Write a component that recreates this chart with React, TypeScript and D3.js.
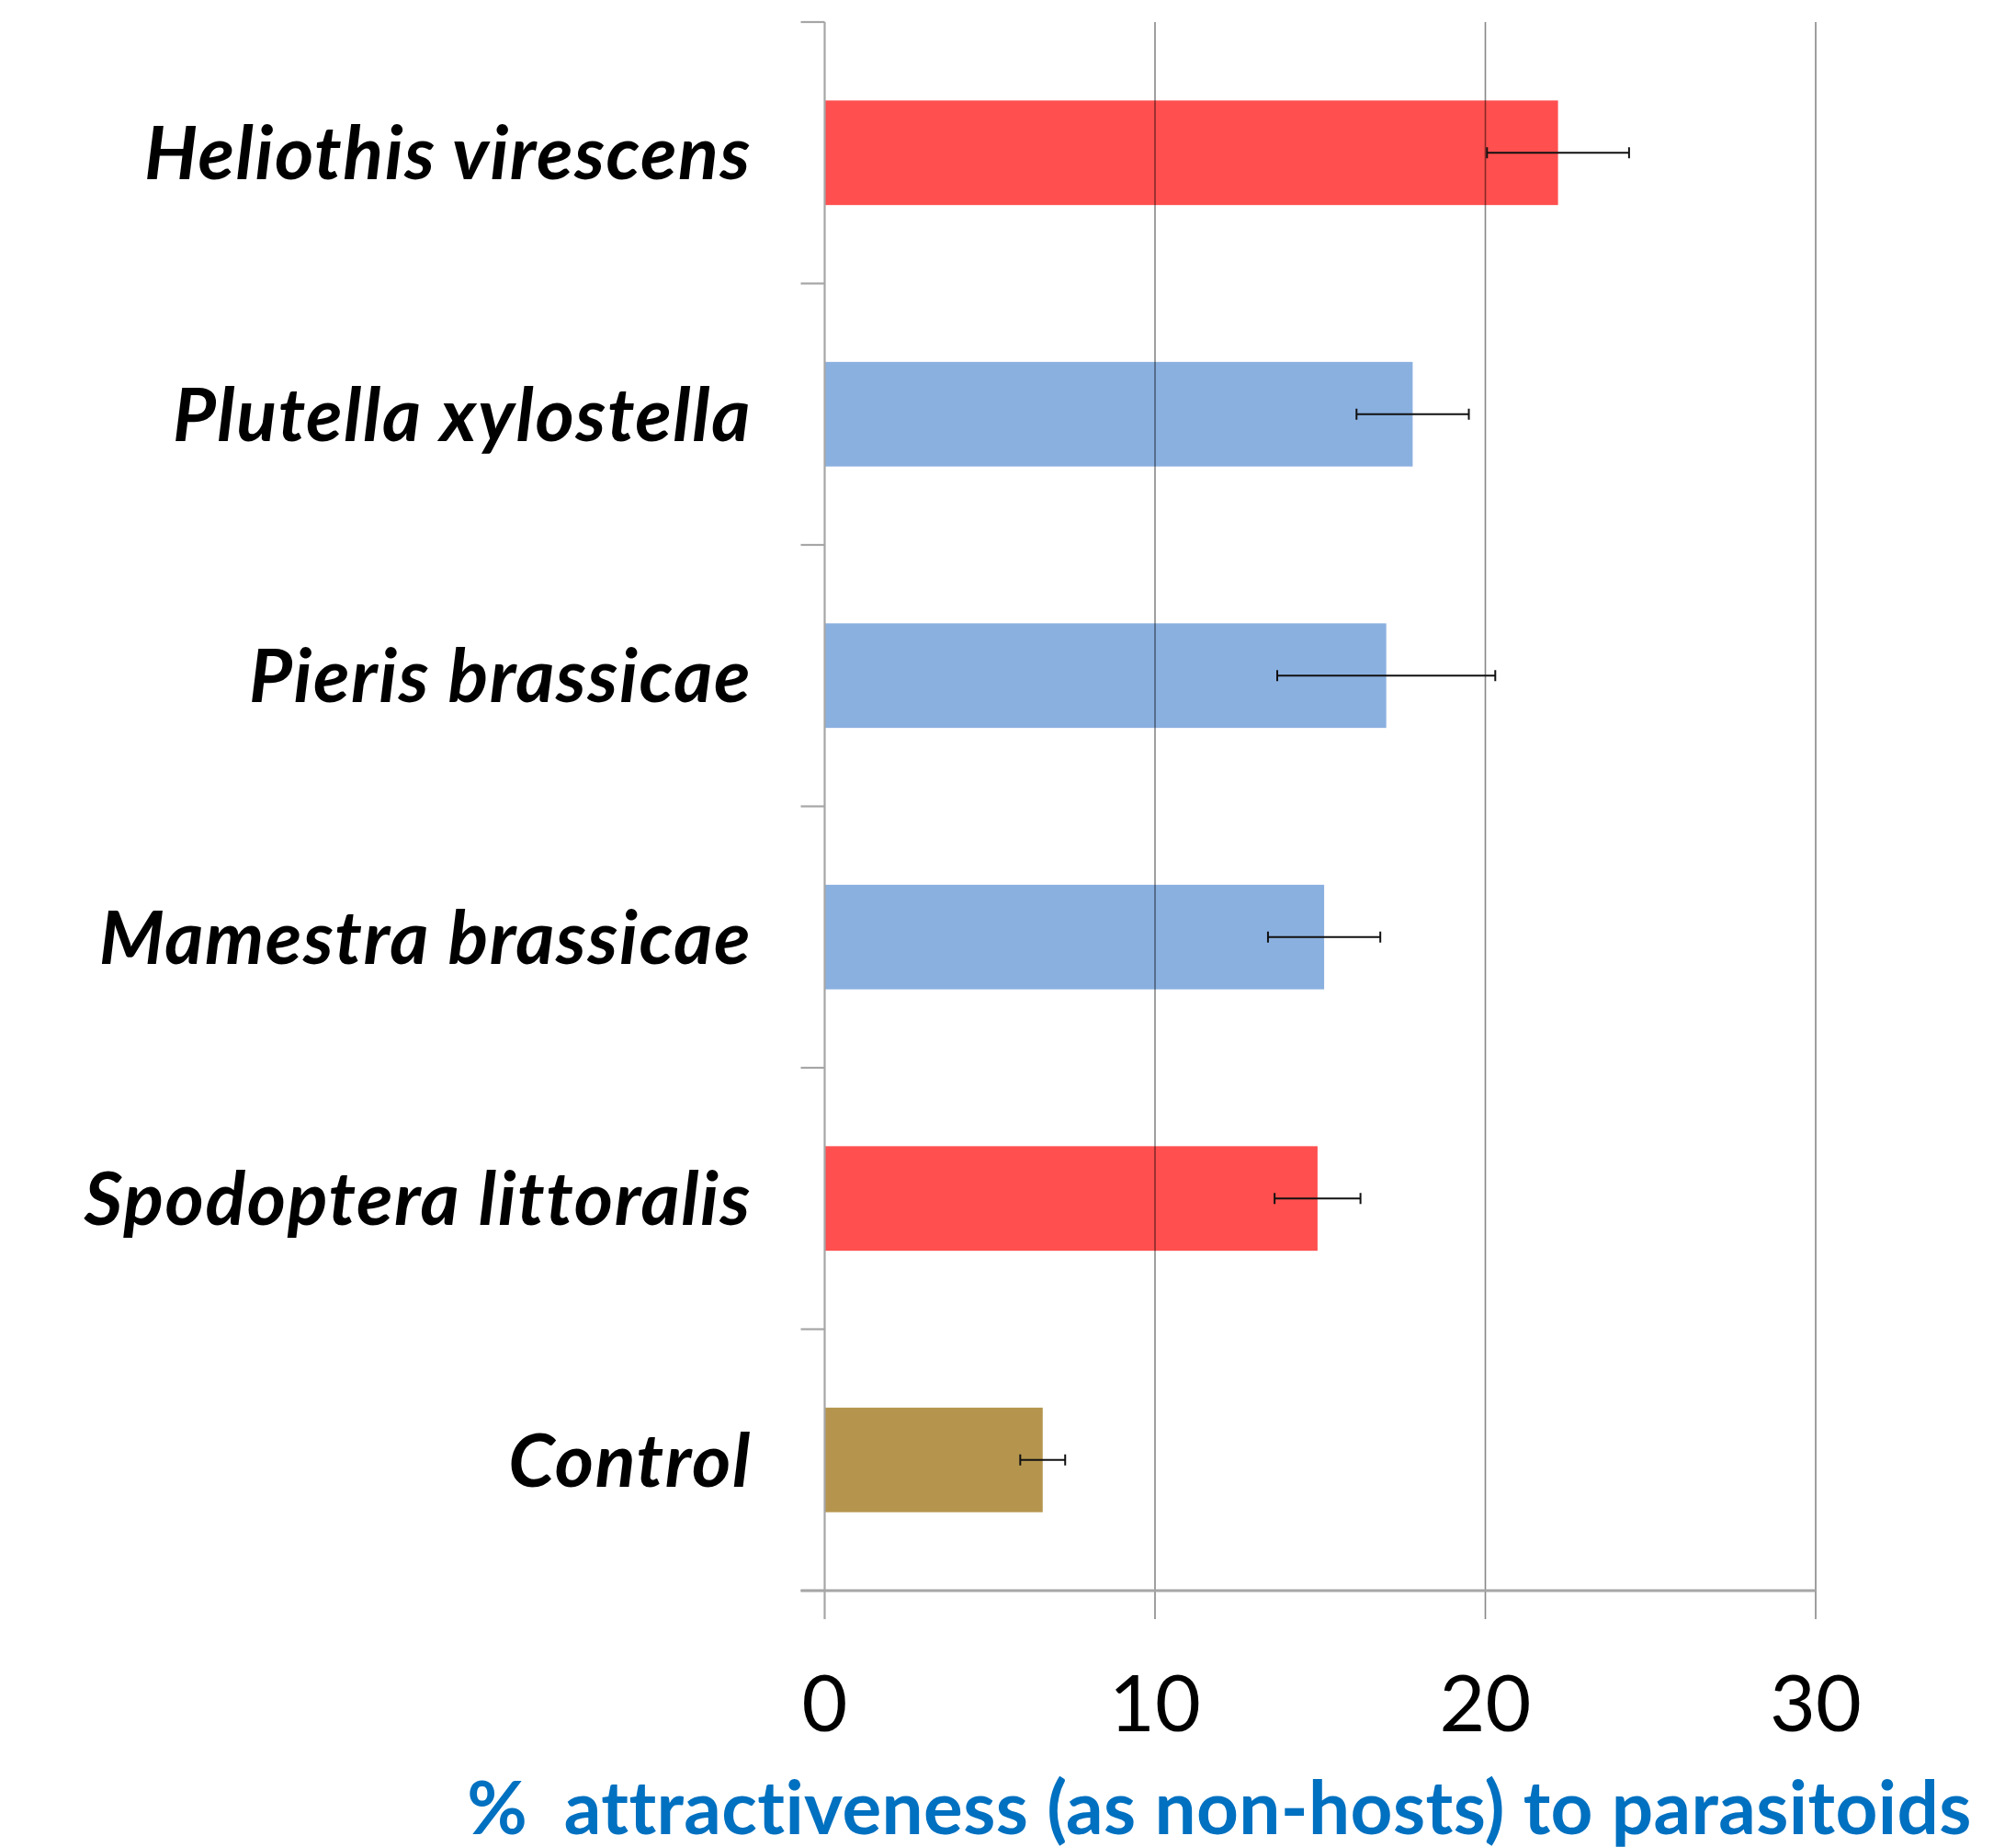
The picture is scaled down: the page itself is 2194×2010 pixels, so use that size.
import React from 'react';
import * as d3 from 'd3';

// species tested, top to bottom
const categories = [
  'Heliothis virescens',
  'Plutella xylostella',
  'Pieris brassicae',
  'Mamestra brassicae',
  'Spodoptera littoralis',
  'Control',
];
const values = [22.2, 17.8, 17.0, 15.12, 14.92, 6.6];
const errors = [2.15, 1.7, 3.3, 1.7, 1.3, 0.68];
const barColors = ['#FF4F4F', '#8AB0E0', '#8AB0E0', '#8AB0E0', '#FF4F4F', '#B5954D'];
const xTicks = [0, 10, 20, 30];
const axisTitle = '%  attractiveness (as non-hosts) to parasitoids';

const W = 2194;
const H = 2010;
const margin = { top: 24, right: 218, bottom: 279, left: 897.5 };

export default function App() {
  const x = d3.scaleLinear()
    .domain([0, 30])
    .range([margin.left, W - margin.right]);

  const y = d3.scaleBand<string>()
    .domain(categories)
    .range([margin.top, H - margin.bottom])
    .paddingInner(0.6)
    .paddingOuter(0.3);

  const step = y.step();
  const y0 = margin.top;
  const y1 = H - margin.bottom;
  // category tick positions (band boundaries)
  const bounds = d3.range(categories.length + 1).map(i => y0 + i * step);

  const labelFont = 'Lato, "Noto Sans", sans-serif';
  const noLig = { fontVariantLigatures: 'none', whiteSpace: 'pre' } as React.CSSProperties;

  return (
    <svg width={W} height={H} style={{ position: 'absolute', left: 0, top: 0, background: '#fff' }}>
      {/* bars */}
      {categories.map((c, i) => (
        <rect
          key={c}
          x={x(0)}
          y={y(c)}
          width={x(values[i]) - x(0)}
          height={y.bandwidth()}
          fill={barColors[i]}
        />
      ))}

      {/* vertical gridlines, drawn over bars */}
      {xTicks.slice(1).map(t => (
        <line key={t} x1={x(t)} x2={x(t)} y1={y0} y2={y1 + 31}
          stroke="rgba(0,0,0,0.47)" strokeWidth={1.6} />
      ))}

      {/* left axis */}
      <line x1={x(0)} x2={x(0)} y1={y0} y2={y1 + 31} stroke="#a6a6a6" strokeWidth={2.2} />
      {bounds.map((b, i) => (
        <line key={i} x1={x(0) - 26} x2={x(0)} y1={b} y2={b} stroke="#a6a6a6" strokeWidth={2.2} />
      ))}

      {/* bottom axis */}
      <line x1={x(0) - 26} x2={x(30)} y1={y1} y2={y1} stroke="#a6a6a6" strokeWidth={3} />

      {/* error bars */}
      {categories.map((c, i) => {
        const cy = (y(c) as number) + y.bandwidth() / 2;
        const lo = x(values[i] - errors[i]);
        const hi = x(values[i] + errors[i]);
        return (
          <g key={c} stroke="#111" strokeWidth={2}>
            <line x1={lo} x2={hi} y1={cy} y2={cy} />
            <line x1={lo} x2={lo} y1={cy - 6} y2={cy + 6} />
            <line x1={hi} x2={hi} y1={cy - 6} y2={cy + 6} />
          </g>
        );
      })}

      {/* category labels */}
      {categories.map(c => (
        <text
          key={c}
          x={818}
          y={(y(c) as number) + y.bandwidth() / 2}
          dy="0.36em"
          textAnchor="end"
          fontFamily={labelFont}
          fontWeight="bold"
          fontStyle="italic"
          fontSize={81}
          letterSpacing={1.6}
          fill="#000"
          style={noLig}
        >
          {c}
        </text>
      ))}

      {/* x tick labels */}
      {xTicks.map(t => (
        <text key={t} x={x(t)} y={1884} textAnchor="middle"
          fontFamily={labelFont} fontSize={86} fill="#000">
          {t}
        </text>
      ))}

      {/* axis title */}
      <text x={1327} y={1996} textAnchor="middle" fontFamily={labelFont}
        fontWeight="bold" fontSize={80} letterSpacing={0.4} fill="#0070C0" style={noLig}>
        {axisTitle}
      </text>
    </svg>
  );
}
